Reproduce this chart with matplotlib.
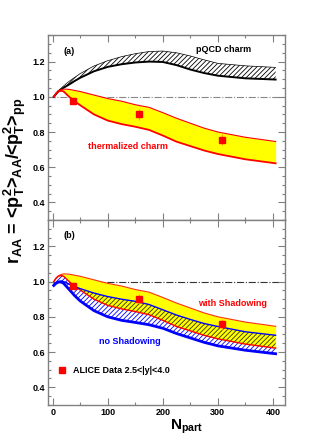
import numpy as np
import matplotlib
matplotlib.use('Agg')
import matplotlib.pyplot as plt
from matplotlib.ticker import MultipleLocator, FormatStrFormatter

plt.rcParams['font.family'] = ['Liberation Sans', 'DejaVu Sans']
plt.rcParams['font.weight'] = 'bold'
plt.rcParams['mathtext.fontset'] = 'custom'
plt.rcParams['mathtext.bf'] = 'Liberation Sans:bold'
plt.rcParams['mathtext.rm'] = 'Liberation Sans:bold'
plt.rcParams['mathtext.it'] = 'Liberation Sans:bold'
plt.rcParams['mathtext.default'] = 'bf'
plt.rcParams['hatch.linewidth'] = 0.6

# N_part grid on which the curves were read
npart = [2, 6, 10, 15, 20, 30, 40, 50, 75, 100, 125, 150, 175, 200, 225, 250, 275, 300, 350, 405]

# pQCD charm band (panel a)
pqcd_lo = [1.0, 1.015, 1.03, 1.04, 1.052, 1.07, 1.09, 1.108, 1.145, 1.17, 1.185, 1.195, 1.2, 1.198,
           1.18, 1.155, 1.135, 1.12, 1.105, 1.098]
pqcd_hi = [1.0, 1.018, 1.034, 1.048, 1.062, 1.088, 1.11, 1.132, 1.175, 1.205, 1.228, 1.245, 1.257, 1.26,
           1.25, 1.232, 1.21, 1.19, 1.176, 1.167]

# thermalized charm / with shadowing band
therm_hi = [1.0, 1.02, 1.032, 1.04, 1.044, 1.042, 1.036, 1.03, 1.01, 0.99, 0.975, 0.955, 0.94, 0.91,
            0.878, 0.85, 0.822, 0.80, 0.77, 0.746]
therm_lo = [1.0, 1.018, 1.03, 1.035, 1.03, 1.0, 0.975, 0.952, 0.9, 0.865, 0.845, 0.83, 0.812, 0.78,
            0.745, 0.72, 0.695, 0.675, 0.645, 0.622]

# no shadowing band (panel b)
noshad_hi = [0.985, 0.995, 1.0, 1.003, 1.0, 0.985, 0.972, 0.96, 0.935, 0.915, 0.9, 0.888, 0.87, 0.84,
             0.81, 0.785, 0.762, 0.745, 0.715, 0.695]
noshad_lo = [0.978, 0.99, 0.997, 0.998, 0.99, 0.955, 0.92, 0.89, 0.835, 0.80, 0.78, 0.768, 0.755, 0.735,
             0.705, 0.68, 0.655, 0.635, 0.61, 0.59]

# ALICE data
data_n = [37.5, 156, 307]
data_r = [0.977, 0.90, 0.757]
data_err = [0.02, 0.03, 0.03]

fig = plt.figure(figsize=(3.33, 4.4), dpi=100)
ax1 = fig.add_axes([0.1441, 0.5, 0.7117, 0.42])
ax2 = fig.add_axes([0.1441, 0.08, 0.7117, 0.42])

n = np.array(npart)

def style(ax):
    ax.set_xlim(-8.5, 422)
    ax.set_ylim(0.3, 1.35)
    ax.xaxis.set_major_locator(MultipleLocator(100))
    ax.xaxis.set_minor_locator(MultipleLocator(50))
    ax.yaxis.set_major_locator(MultipleLocator(0.2, offset=0.0))
    ax.yaxis.set_minor_locator(MultipleLocator(0.05))
    ax.xaxis.set_major_formatter(FormatStrFormatter('%d'))
    ax.yaxis.set_major_formatter(FormatStrFormatter('%.1f'))
    ax.tick_params(which='both', direction='in', top=True, right=True, color='#808080',
                   labelsize=6.5, pad=2)
    ax.tick_params(which='major', length=5, width=0.8)
    ax.tick_params(which='minor', length=2.5, width=0.8)
    for s in ax.spines.values():
        s.set_color('#808080')
        s.set_linewidth(1.0)

style(ax1)
style(ax2)
ax1.tick_params(labelbottom=False)

# ---- panel (a)
ax1.axhline(1.0, color='#888888', ls='-.', lw=0.8, zorder=1)
ax1.fill_between(n, pqcd_lo, pqcd_hi, facecolor='none', edgecolor='black', hatch='///////', lw=0, zorder=2)
ax1.plot(n, pqcd_hi, color='black', lw=0.5, zorder=3)
ax1.plot(n, pqcd_lo, color='black', lw=1.4, zorder=3)
ax1.fill_between(n, therm_lo, therm_hi, color='yellow', lw=0, zorder=2)
ax1.plot(n, therm_hi, color='red', lw=0.8, zorder=3)
ax1.plot(n, therm_lo, color='red', lw=1.3, zorder=3)
ax1.errorbar(data_n, data_r, yerr=data_err, fmt='s', color='red', ms=4.5, ecolor='orange',
             elinewidth=0.8, capsize=0, zorder=5)
ax1.text(19, 1.256, '(a)', fontsize=6.5, va='center', ha='left')
ax1.text(311, 1.267, 'pQCD charm', fontsize=6.5, va='center', ha='center')
ax1.text(136, 0.716, 'thermalized charm', fontsize=6.5, va='center', ha='center', color='red')

# ---- panel (b)
ax2.axhline(1.0, color='#333333', ls='-.', lw=0.8, zorder=1)
ax2.fill_between(n, therm_lo, therm_hi, color='yellow', lw=0, zorder=2)
ax2.fill_between(n, np.minimum(noshad_lo, therm_lo), therm_lo, facecolor='none', edgecolor='blue',
                 hatch='///////', lw=0, zorder=2)
ax2.fill_between(n, therm_lo, np.maximum(noshad_hi, therm_lo), facecolor='none', edgecolor='#333300',
                 hatch='///////', lw=0, zorder=2)
ax2.plot(n, therm_hi, color='#ff3300', lw=0.8, zorder=3)
ax2.plot(n, therm_lo, color='red', lw=1.0, zorder=3)
ax2.plot(n, noshad_hi, color='blue', lw=1.0, zorder=3)
ax2.plot(n, noshad_lo, color='blue', lw=2.0, zorder=3)
ax2.errorbar(data_n, data_r, yerr=data_err, fmt='s', color='red', ms=4.5, ecolor='orange',
             elinewidth=0.8, capsize=0, zorder=5)
ax2.text(19, 1.264, '(b)', fontsize=6.5, va='center', ha='left')
ax2.text(326, 0.876, 'with Shadowing', fontsize=6.5, va='center', ha='center', color='red')
ax2.text(141, 0.661, 'no Shadowing', fontsize=6.5, va='center', ha='center', color='blue')
ax2.plot([], [], 's', color='red', ms=4.5, label='ALICE Data 2.5<|y|<4.0')
ax2.legend(loc='center left', bbox_to_anchor=(0.02, 0.184), frameon=False, fontsize=6.5,
           handlelength=1.2, handletextpad=0.6, borderaxespad=0)

fig.text(0.045, 0.59, r'r$_{AA}$ = <p$_T^2$>$_{AA}$/<p$_T^2$>$_{pp}$', rotation=90,
         fontsize=13, ha='center', va='center')
fig.text(0.56, 0.03, r'N$_{part}$', fontsize=11, ha='center', va='center')

fig.savefig('out.png', dpi=100)
